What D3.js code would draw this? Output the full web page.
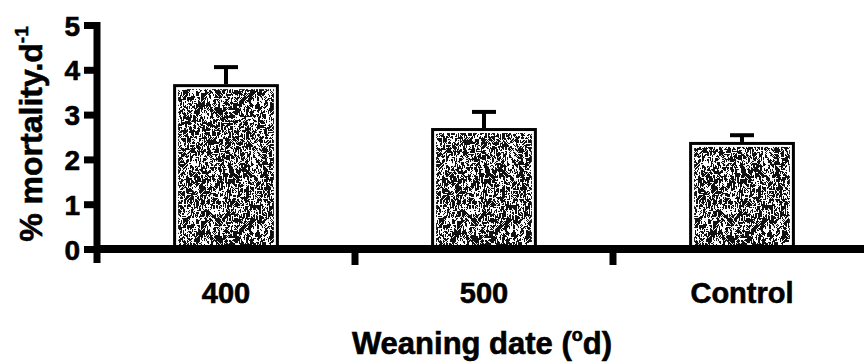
<!DOCTYPE html>
<html>
<head>
<meta charset="utf-8">
<script src="https://cdn.jsdelivr.net/npm/d3@7"></script>
<style>
  html, body { margin: 0; padding: 0; background: #fff; }
  svg { display: block; }
  text { font-family: "Liberation Sans", Arial, Helvetica, sans-serif; font-weight: bold; fill: #000; stroke: #000; stroke-width: 0.6px; }
</style>
</head>
<body>
<svg id="chart" width="864" height="364"></svg>
<script>
// Mortality rate per weaning date group
const categories = ["400", "500", "Control"];
const meanMortality = [3.68, 2.70, 2.39];
const errMortality = [0.38, 0.36, 0.15];
const yTicks = [0, 1, 2, 3, 4, 5];

const svg = d3.select("#chart");
const W = 864, H = 364;

const x = d3.scaleBand().domain(categories).range([97, 871]).paddingInner(0.59).paddingOuter(0.295);
const y = d3.scaleLinear().domain([0, 5]).range([249, 25]);

// Speckled fill texture for the bars: black ground with short white squiggles.
// Strokes that cross a tile edge are repeated on the opposite side so the tile wraps seamlessly.
const defs = svg.append("defs");
const tile = 128;
const pat = defs.append("pattern")
  .attr("id", "speckle").attr("patternUnits", "userSpaceOnUse")
  .attr("width", tile).attr("height", tile);
pat.append("rect").attr("width", tile).attr("height", tile).attr("fill", "#111");
function hash(i, j) {
  let h = (i * 374761393 + j * 668265263) | 0;
  h = Math.imul(h ^ (h >>> 13), 1274126177);
  h = h ^ (h >>> 16);
  return (h >>> 0) / 4294967295;
}
const dirs = [[0, 1], [0, 1], [1, 0], [1, 1], [1, -1], [0, 1]];
const strokes = [];
for (let k = 0; k < 2700; k++) {
  const sx = Math.floor(hash(k, 11) * tile);
  const sy = Math.floor(hash(k, 23) * tile);
  const d = dirs[Math.floor(hash(k, 37) * dirs.length)];
  const len = 1 + Math.floor(hash(k, 51) * 4);
  for (const ox of [-tile, 0, tile]) {
    for (const oy of [-tile, 0, tile]) {
      const x1 = sx + ox + 0.5, y1 = sy + oy + 0.5;
      const x2 = x1 + d[0] * len, y2 = y1 + d[1] * len;
      if (Math.max(x1, x2) < -1 || Math.min(x1, x2) > tile + 1) continue;
      if (Math.max(y1, y2) < -1 || Math.min(y1, y2) > tile + 1) continue;
      strokes.push({ x1, y1, x2, y2 });
    }
  }
}
pat.selectAll("line").data(strokes).join("line")
  .attr("x1", d => d.x1).attr("y1", d => d.y1).attr("x2", d => d.x2).attr("y2", d => d.y2)
  .attr("stroke", "#fff").attr("stroke-width", 1).attr("stroke-linecap", "square");

// Bars: black outline, thin white rim, speckled interior
const bars = svg.append("g");
categories.forEach((c, i) => {
  const x0 = x(c), bw = x.bandwidth();
  const yt = y(meanMortality[i]), yb = y(0);
  bars.append("rect")
    .attr("x", x0).attr("y", yt).attr("width", bw).attr("height", yb - yt)
    .attr("fill", "#000");
  bars.append("rect")
    .attr("x", x0 + 3).attr("y", yt + 3).attr("width", bw - 6).attr("height", yb - yt - 3)
    .attr("fill", "#fff");
  bars.append("rect")
    .attr("x", x0 + 5).attr("y", yt + 5).attr("width", bw - 10).attr("height", yb - yt - 5)
    .attr("fill", "url(#speckle)");
});

// Upper error bars
const eb = svg.append("g").attr("stroke", "#000").attr("stroke-width", 4);
categories.forEach((c, i) => {
  const cx = x(c) + x.bandwidth() / 2;
  const yTop = y(meanMortality[i] + errMortality[i]);
  eb.append("line").attr("x1", cx).attr("x2", cx).attr("y1", y(meanMortality[i])).attr("y2", yTop);
  eb.append("line").attr("x1", cx - 12).attr("x2", cx + 12).attr("y1", yTop).attr("y2", yTop);
});

// Y axis
const yAxis = d3.axisLeft(y).tickValues(yTicks).tickSize(13).tickPadding(4).tickFormat(d3.format("d"));
const gy = svg.append("g").attr("transform", "translate(97,0)").call(yAxis);
gy.select(".domain").remove();
gy.selectAll(".tick line").attr("stroke", "#000").attr("stroke-width", 7);
gy.selectAll(".tick text").style("font-size", "28px").attr("dy", "0.36em");
svg.append("line").attr("x1", 97).attr("x2", 97).attr("y1", y(5) - 3).attr("y2", 263)
  .attr("stroke", "#000").attr("stroke-width", 7);

// X axis
svg.append("line").attr("x1", 94).attr("x2", W).attr("y1", y(0)).attr("y2", y(0))
  .attr("stroke", "#000").attr("stroke-width", 8);
const step = x.step();
const boundaries = [x.range()[0] + step, x.range()[0] + 2 * step];
svg.append("g").selectAll("line").data(boundaries).join("line")
  .attr("x1", d => d).attr("x2", d => d).attr("y1", y(0)).attr("y2", 265)
  .attr("stroke", "#000").attr("stroke-width", 7);
svg.append("g").selectAll("text").data(categories).join("text")
  .attr("x", d => x(d) + x.bandwidth() / 2).attr("y", 303)
  .attr("text-anchor", "middle").style("font-size", "29px")
  .text(d => d);

// Axis titles
const xt = svg.append("text").attr("x", 482).attr("y", 354).attr("text-anchor", "middle")
  .style("font-size", "31px");
xt.append("tspan").text("Weaning date (");
xt.append("tspan").text("o").style("font-size", "18px").attr("dy", "-0.75em");
xt.append("tspan").text("d)").attr("dy", "0.45em");

const yt = svg.append("text").attr("transform", "translate(42,134) rotate(-90)")
  .attr("text-anchor", "middle").style("font-size", "32px");
yt.append("tspan").text("% mortality.d");
yt.append("tspan").text("-1").style("font-size", "19px").attr("dy", "-0.75em");
</script>
</body>
</html>
